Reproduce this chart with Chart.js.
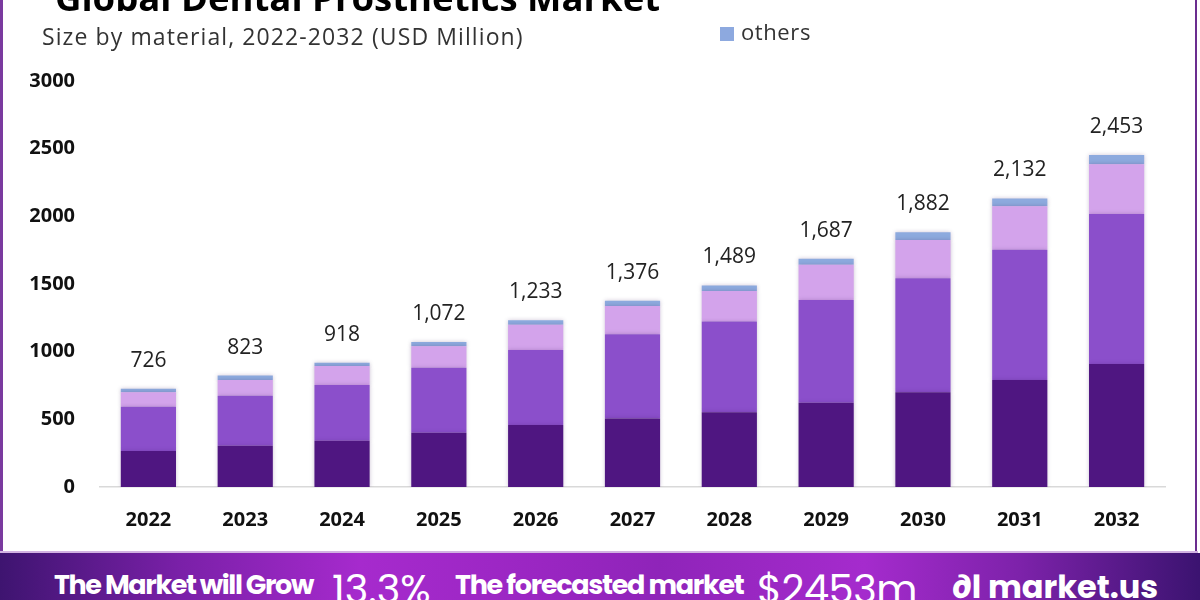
<!DOCTYPE html>
<html>
<head>
<meta charset="utf-8">
<script src="https://cdn.jsdelivr.net/npm/chart.js@4.4.0/dist/chart.umd.min.js"></script>
<style>
  html, body { margin:0; padding:0; width:1200px; height:600px; overflow:hidden; background:#fff; }
  #wrap { position:relative; width:1200px; height:600px; overflow:hidden; }
  #c { position:absolute; left:0; top:0; }
  .abs { position:absolute; white-space:nowrap; }
  #title { left:55px; top:-25px; font-family:"Open Sans", sans-serif; font-weight:700; font-size:36.5px; letter-spacing:0px; color:#000; line-height:44px; }
  #subtitle { left:42px; top:21px; font-family:"Open Sans", sans-serif; font-weight:400; font-size:23px; letter-spacing:1.1px; color:#333; line-height:30px; }
  #legend { left:720px; top:17px; font-family:"Open Sans", sans-serif; font-size:22px; letter-spacing:0.6px; color:#333; line-height:28px; }
  #legend span.sw { display:inline-block; width:14px; height:14px; background:#8da9df; margin-right:7px; vertical-align:-1px; }
  #leftb { left:0; top:0; width:3px; height:553px; background:#7a3a9f; }
  #rightb { left:1195px; top:0; width:2px; height:553px; background:#6b2d8f; }
  #bottomb { left:0; top:551px; width:1198px; height:2px; background:#d2b2e2; }
  #banner { left:0; top:553px; width:1200px; height:47px;
    background:linear-gradient(90deg,#3e1470 0%,#7a20a8 15%,#a62acd 30%,#9a26c2 45%,#8f24b9 55%,#a52bcd 72%,#7d22aa 85%,#3b1370 100%); }
  .bt { color:#fff; font-family:"Poppins","Open Sans",sans-serif; }
</style>
</head>
<body>
<div id="wrap">
  <canvas id="c" width="1200" height="600"></canvas>
  <div class="abs" id="title">Global Dental Prosthetics Market</div>
  <div class="abs" id="subtitle">Size by material, 2022-2032 (USD Million)</div>
  <div class="abs" id="legend"><span class="sw"></span>others</div>
  <div class="abs" id="leftb"></div>
  <div class="abs" id="rightb"></div>
  <div class="abs" id="bottomb"></div>
  <div class="abs" id="banner">
    <div class="abs bt" style="left:54px;top:15px;font-weight:700;font-size:27px;letter-spacing:-1.4px;line-height:34px;">The Market will Grow</div>
    <div class="abs bt" style="left:332px;top:13px;font-weight:400;font-size:40px;line-height:46px;">13.3%</div>
    <div class="abs bt" style="left:455px;top:15px;font-weight:700;font-size:27px;letter-spacing:-1.3px;line-height:34px;">The forecasted market</div>
    <div class="abs bt" style="left:757px;top:13px;font-weight:400;font-size:40px;letter-spacing:-0.5px;line-height:46px;">$2453m</div>
    <div class="abs bt" style="left:952px;top:15px;font-weight:700;font-size:32px;line-height:38px;">&#x2202;l market.us</div>
  </div>
</div>
<script>
const years = ['2022','2023','2024','2025','2026','2027','2028','2029','2030','2031','2032'];
const seriesNames = ['Porcelain Fused to Metal', 'Ceramic', 'Metal', 'others'];
const darkValues   = [266, 305, 342, 401, 458, 507, 552, 623, 700, 791, 909];
const mediumValues = [327, 370, 412, 481, 554, 621, 670, 759, 842, 963, 1108];
const lightValues  = [107, 116, 140, 158, 187, 209, 226, 261, 283, 320, 368];
const othersValues = [26, 32, 24, 32, 34, 39, 41, 44, 57, 58, 68];
const totals = [726, 823, 918, 1072, 1233, 1376, 1489, 1687, 1882, 2132, 2453];
const yTicks = [0, 500, 1000, 1500, 2000, 2500, 3000];

const colors = ['#4f1681', '#8b4fcb', '#d3a3eb', '#8daade'];

const totalLabels = {
  id: 'totalLabels',
  afterDatasetsDraw(chart) {
    const ctx = chart.ctx;
    const xs = chart.scales.x, ys = chart.scales.y;
    ctx.save();
    ctx.fillStyle = '#222';
    ctx.font = '400 21px "Open Sans", sans-serif';
    ctx.textAlign = 'center';
    ctx.textBaseline = 'middle';
    totals.forEach((t, i) => {
      const x = xs.getPixelForValue(i);
      const y = ys.getPixelForValue(t);
      ctx.fillText(t.toLocaleString('en-US'), x, y - 28);
    });
    ctx.restore();
  }
};
const barShadow = {
  id: 'barShadow',
  beforeDatasetsDraw(chart) {
    chart.ctx.save();
    chart.ctx.shadowColor = 'rgba(60,20,90,0.25)';
    chart.ctx.shadowBlur = 4;
  },
  afterDatasetsDraw(chart) { chart.ctx.restore(); }
};

const ds = [darkValues, mediumValues, lightValues, othersValues].map((d, k) => ({
  label: seriesNames[k],
  data: d,
  backgroundColor: colors[k],
  borderWidth: 0,
  barPercentage: 0.57,
  categoryPercentage: 1.0,
  stack: 's'
}));

new Chart(document.getElementById('c'), {
  type: 'bar',
  data: { labels: years, datasets: ds },
  options: {
    responsive: false,
    animation: false,
    layout: { padding: { left: 0, right: 35, top: 81, bottom: 0 } },
    plugins: { legend: { display: false }, tooltip: { enabled: false }, title: { display: false } },
    scales: {
      x: {
        stacked: true,
        grid: { display: false, drawTicks: false },
        border: { display: true, color: '#d9d9d9', width: 1.5 },
        ticks: { color: '#111', font: { family: '"Open Sans", sans-serif', weight: 'bold', size: 20 }, padding: 21 },
        afterFit(s) { s.height = 113; }
      },
      y: {
        stacked: true,
        min: 0, max: 3000,
        afterBuildTicks(s) { s.ticks = yTicks.map(v => ({ value: v })); },
        grid: { display: false, drawTicks: false },
        border: { display: false },
        ticks: { color: '#111', font: { family: '"Open Sans", sans-serif', weight: 'bold', size: 20 }, padding: 25,
                 callback: (v) => String(v) },
        afterFit(s) { s.width = 100; }
      }
    }
  },
  plugins: [barShadow, totalLabels]
});
</script>
</body>
</html>
